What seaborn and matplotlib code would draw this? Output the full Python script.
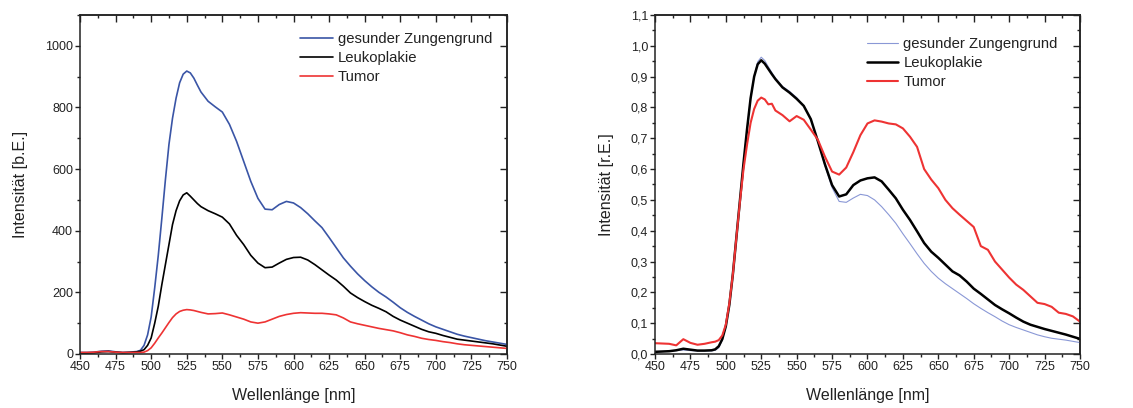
import numpy as np
import pandas as pd
import matplotlib
matplotlib.use("Agg")
import matplotlib.pyplot as plt
import seaborn as sns
from matplotlib.ticker import MultipleLocator, FuncFormatter

sns.set_theme(style="white")
plt.rcParams['font.family'] = ['Liberation Sans', 'DejaVu Sans']

wavelength = ([450, 455, 460, 465, 470, 475, 480, 485, 490]
              + [492.5, 495, 497.5, 500, 502.5, 505, 507.5, 510, 512.5, 515, 517.5, 520,
                 522.5, 525, 527.5, 530, 532.5, 535]
              + list(range(540, 751, 5)))

gesund_abs = [5, 5, 6, 9, 10, 7, 5, 6, 8,
              12, 28, 62, 120, 215, 320, 440, 565, 680, 765, 830, 880, 908, 918, 912, 895, 872, 850,
              820, 802, 785, 745, 690, 625, 560, 505, 470, 468, 485, 495, 490, 475, 455, 432,
              410, 378, 345, 312, 285, 260, 238, 218, 200, 185, 168, 150, 135, 122, 110, 98,
              88, 80, 72, 64, 58, 53, 48, 43, 39, 35, 31]
leuko_abs = [3, 3, 4, 7, 8, 6, 4, 5, 7,
             9, 14, 28, 52, 100, 155, 225, 290, 355, 420, 465, 497, 516, 523, 512, 500, 488, 478,
             465, 455, 444, 422, 385, 355, 320, 295, 280, 282, 295, 307, 313, 314, 305, 290,
             273, 256, 240, 220, 198, 183, 170, 158, 148, 137, 122, 110, 100, 90, 80, 72, 67,
             60, 54, 48, 45, 42, 39, 36, 33, 29, 25]
tumor_abs = [5, 5, 6, 8, 8, 6, 5, 5, 5,
             5, 6, 11, 20, 35, 52, 68, 85, 102, 118, 130, 138, 142, 144, 143, 141, 138, 135,
             130, 131, 133, 127, 120, 113, 104, 100, 104, 113, 122, 128, 132, 134, 133, 132,
             132, 130, 127, 117, 104, 98, 93, 88, 83, 79, 75, 69, 62, 57, 51, 47, 44, 40, 37,
             33, 30, 28, 26, 24, 22, 20, 18]

gesund_rel = [0.008, 0.008, 0.009, 0.011, 0.013, 0.011, 0.010, 0.010, 0.010,
              0.012, 0.020, 0.045, 0.090, 0.160, 0.260, 0.380, 0.500, 0.620, 0.730, 0.830,
              0.900, 0.948, 0.963, 0.952, 0.932, 0.913, 0.895,
              0.868, 0.852, 0.832, 0.805, 0.762, 0.690, 0.610, 0.540, 0.495, 0.492, 0.506,
              0.518, 0.514, 0.500, 0.478, 0.452, 0.424, 0.390, 0.358, 0.325, 0.294, 0.268,
              0.246, 0.228, 0.212, 0.196, 0.180, 0.163, 0.148, 0.134, 0.121, 0.107, 0.095,
              0.086, 0.078, 0.070, 0.062, 0.056, 0.051, 0.048, 0.045, 0.041, 0.037]
leuko_rel = [0.007, 0.008, 0.009, 0.012, 0.017, 0.014, 0.011, 0.011, 0.012,
             0.015, 0.025, 0.048, 0.090, 0.160, 0.260, 0.380, 0.500, 0.620, 0.730, 0.830,
             0.900, 0.940, 0.953, 0.942, 0.925, 0.908, 0.892,
             0.865, 0.848, 0.828, 0.805, 0.762, 0.690, 0.615, 0.548, 0.511, 0.518, 0.548,
             0.563, 0.570, 0.573, 0.560, 0.533, 0.505, 0.468, 0.435, 0.398, 0.360, 0.332,
             0.312, 0.290, 0.268, 0.255, 0.235, 0.212, 0.195, 0.177, 0.159, 0.145, 0.132,
             0.118, 0.105, 0.095, 0.088, 0.081, 0.075, 0.069, 0.063, 0.056, 0.049]
tumor_rel = [0.035, 0.034, 0.033, 0.028, 0.048, 0.036, 0.030, 0.033, 0.038,
             0.040, 0.045, 0.060, 0.095, 0.165, 0.260, 0.380, 0.495, 0.600, 0.680, 0.750,
             0.795, 0.822, 0.832, 0.826, 0.810, 0.812, 0.790,
             0.775, 0.755, 0.772, 0.760, 0.728, 0.695, 0.640, 0.592, 0.582, 0.605, 0.655,
             0.710, 0.748, 0.758, 0.754, 0.748, 0.745, 0.732, 0.705, 0.672, 0.600, 0.566,
             0.538, 0.500, 0.473, 0.452, 0.432, 0.412, 0.350, 0.338, 0.300, 0.274, 0.248,
             0.225, 0.208, 0.187, 0.166, 0.162, 0.153, 0.134, 0.130, 0.122, 0.105]

labels = ["gesunder Zungengrund", "Leukoplakie", "Tumor"]

fig = plt.figure(figsize=(11.33, 4.08), dpi=100)
ax1 = fig.add_axes([0.0706, 0.1324, 0.3769, 0.8309])
ax2 = fig.add_axes([0.5781, 0.1324, 0.3751, 0.8309])

left_style = [("#3a55a6", 1.2), ("#000000", 1.2), ("#ee3333", 1.2)]
right_style = [("#8a98d6", 0.8), ("#000000", 1.8), ("#ee3333", 1.5)]

for y, lab, (c, lw) in zip([gesund_abs, leuko_abs, tumor_abs], labels, left_style):
    sns.lineplot(x=wavelength, y=y, ax=ax1, color=c, linewidth=lw, label=lab)
for y, lab, (c, lw) in zip([gesund_rel, leuko_rel, tumor_rel], labels, right_style):
    sns.lineplot(x=wavelength, y=y, ax=ax2, color=c, linewidth=lw, label=lab)

comma = FuncFormatter(lambda v, p: f"{v:.1f}".replace(".", ","))

def style(ax, ylim, ymaj, ymin, ylabel, leg_xy, hl, fmt=None):
    ax.set_xlim(450, 750)
    ax.set_ylim(*ylim)
    ax.xaxis.set_major_locator(MultipleLocator(25))
    ax.xaxis.set_minor_locator(MultipleLocator(12.5))
    ax.yaxis.set_major_locator(MultipleLocator(ymaj))
    ax.yaxis.set_minor_locator(MultipleLocator(ymin))
    if fmt is not None:
        ax.yaxis.set_major_formatter(fmt)
    ax.tick_params(which='both', direction='out', bottom=True, left=True,
                   top=False, right=False, labelsize=9, colors='#222222', pad=1.5)
    ax.tick_params(which='major', length=3.5, width=1)
    ax.tick_params(which='minor', length=2, width=1)
    for s in ax.spines.values():
        s.set_color('#222222')
        s.set_linewidth(1.1)
    top = ax.secondary_xaxis('top')
    top.xaxis.set_major_locator(MultipleLocator(25))
    top.xaxis.set_minor_locator(MultipleLocator(12.5))
    top.tick_params(which='both', direction='in', labeltop=False, colors='#222222')
    top.tick_params(which='major', length=5, width=1)
    top.tick_params(which='minor', length=2.5, width=1)
    top.spines['top'].set_linewidth(1.1)
    right = ax.secondary_yaxis('right')
    right.yaxis.set_major_locator(MultipleLocator(ymaj))
    right.yaxis.set_minor_locator(MultipleLocator(ymin))
    right.tick_params(which='both', direction='in', labelright=False, colors='#222222')
    right.tick_params(which='major', length=5, width=1)
    right.tick_params(which='minor', length=2.5, width=1)
    right.spines['right'].set_linewidth(1.1)
    ax.set_xlabel("Wellenlänge [nm]", fontsize=11.5, color='#222222', labelpad=11)
    ax.set_ylabel(ylabel, fontsize=11.5, color='#222222', labelpad=12)
    leg = ax.legend(loc='upper left', bbox_to_anchor=leg_xy, frameon=False,
                    fontsize=10.7, handlelength=hl, handletextpad=0.35,
                    labelspacing=0.33, borderaxespad=0, borderpad=0)
    for t in leg.get_texts():
        t.set_color('#222222')

style(ax1, (0, 1100), 200, 100, "Intensität [b.E.]", (0.515, 0.95), 2.2)
style(ax2, (0, 1.1), 0.1, 0.05, "Intensität [r.E.]", (0.499, 0.935), 2.1, comma)

fig.savefig("out.png", dpi=100)
